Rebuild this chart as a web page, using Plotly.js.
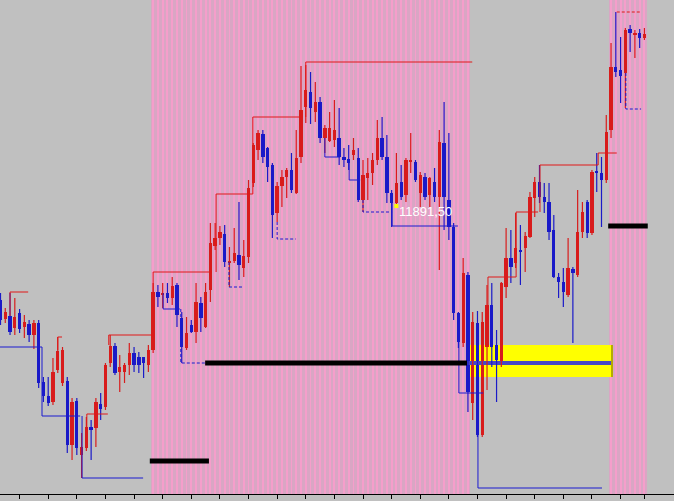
<!DOCTYPE html>
<html><head><meta charset="utf-8">
<script src="https://cdn.plot.ly/plotly-3.0.1.min.js"></script>
<style>html,body{margin:0;padding:0;background:#c0c0c0;}#chart{width:674px;height:501px;}</style>
</head><body><div id="chart"></div>
<script>
// ---- price data (one value per bar) ----
const openP = [11800,11781,11784,11772,11787,11773,11776,11765,11777,11718,11704,11698,11730,11717,11719,11655,11699,11645,11652,11673,11672,11696,11693,11737,11754,11728,11728,11735,11747,11743,11743,11735,11750,11808,11805,11807,11802,11815,11782,11752,11775,11768,11797,11773,11810,11854,11862,11866,11837,11839,11845,11832,11843,11917,11950,11966,11952,11935,11887,11914,11923,11930,11907,11943,11993,12008,11988,11998,11962,11959,11960,11962,11943,11941,11945,11942,11900,11922,11927,11940,11962,11943,11907,11897,11918,11905,11938,11938,11907,11923,11905,11918,11903,11957,11900,11873,11787,11757,11825,11697,11777,11665,11753,11795,11755,11735,11813,11842,11837,11850,11852,11863,11902,11918,11903,11898,11870,11823,11818,11805,11831,11825,11868,11898,11867,11929,11927,11920,11970,12033,12030,12027,12071,12065,12067,12062];
const highP = [11807,11792,11807,11802,11791,11785,11780,11780,11780,11723,11723,11742,11763,11753,11723,11702,11702,11667,11683,11680,11702,11707,11737,11765,11757,11745,11737,11757,11753,11748,11743,11755,11817,11815,11817,11817,11823,11817,11788,11783,11780,11817,11803,11817,11877,11877,11874,11875,11853,11872,11898,11860,11920,11957,11970,11970,11953,11937,11918,11930,11932,11947,11970,12034,12035,12028,12018,12003,11975,11988,12000,11992,11952,11955,11962,11952,11940,11942,11947,11980,11983,11965,11910,11947,11935,11942,11967,11940,11928,11927,11923,11932,11970,11998,11967,11877,11788,11842,11828,11788,11789,11788,11815,11817,11770,11818,11872,11870,11887,11875,11868,11908,11923,11935,11917,11917,11885,11827,11832,11862,11833,11910,11898,11900,11930,11947,11943,11985,12057,12088,12063,12072,12075,12070,12071,12072];
const lowP = [11775,11777,11765,11765,11767,11762,11758,11751,11712,11698,11694,11695,11727,11714,11647,11640,11645,11622,11649,11640,11653,11680,11690,11733,11725,11708,11717,11725,11728,11727,11722,11728,11747,11793,11792,11797,11795,11773,11737,11750,11767,11757,11768,11772,11798,11850,11855,11833,11813,11837,11820,11823,11837,11913,11940,11937,11918,11862,11878,11893,11902,11907,11906,11937,11977,11976,11978,11957,11947,11958,11953,11935,11933,11930,11940,11898,11888,11900,11915,11935,11940,11897,11873,11894,11900,11898,11927,11918,11893,11900,11893,11898,11830,11870,11860,11780,11752,11753,11688,11680,11663,11663,11710,11733,11698,11733,11802,11817,11832,11815,11828,11862,11883,11897,11887,11860,11822,11802,11793,11803,11757,11823,11862,11862,11865,11908,11873,11917,11962,12023,11997,11992,12048,12042,12052,12060];
const closeP = [11780,11788,11768,11783,11771,11778,11765,11777,11717,11704,11697,11728,11749,11750,11655,11698,11652,11653,11673,11670,11698,11691,11735,11754,11727,11733,11735,11747,11735,11735,11737,11750,11808,11803,11807,11802,11814,11785,11753,11767,11768,11798,11782,11808,11857,11862,11868,11838,11839,11847,11835,11844,11912,11955,11967,11943,11933,11885,11914,11923,11930,11910,11942,11990,12010,11992,11998,11962,11972,11972,11970,11943,11940,11937,11950,11900,11925,11927,11940,11962,11943,11907,11897,11917,11903,11940,11940,11920,11925,11903,11922,11903,11958,11903,11873,11787,11758,11827,11708,11778,11665,11778,11795,11753,11740,11817,11842,11833,11852,11848,11864,11903,11918,11903,11898,11868,11823,11818,11808,11832,11827,11868,11888,11867,11928,11927,11920,11968,12033,12028,12024,12070,12067,12067,12062,12066];

// highlighted bar zones
const zoneStart = [32, 128];
const zoneEnd   = [98, 135];

// resistance steps (red): start bar, end bar, level, vertical-from level
const resStart = [2, 12, 18.1, 22.7, 32, 45.2, 52.9, 64, 102.2, 108.1, 113.1, 125.3, 129.2];
const resEnd   = [5.8, 12.9, 22.5, 32.1, 44.3, 52.9, 63.4, 98.9, 108.1, 112.7, 125.3, 129.2, 134.3];
const resLevel = [11808, 11763, 11686, 11765, 11828, 11906, 11983, 12038, 11823, 11888, 11935, 11947, 12088];
const resFrom  = [11784, 11750, 11673, 11755, 11808, 11828, 11906, 11983, 11795, 11823, 11888, 11935, 12088];
const resDash  = [0,0,0,0,0,0,0,0,0,0,0,0,1];

// support steps (blue)
const supStart = [-0.1, 8.7, 17.1, 34.1, 37.8, 47.9, 58, 68, 73.1, 76, 82.1, 96.1, 100.1, 131.1];
const supEnd   = [8.7, 16.7, 29.9, 37.6, 42.9, 50.8, 61.9, 71.2, 75.4, 82.1, 95.9, 101.2, 126.1, 134.3];
const supLevel = [11753, 11684, 11622, 11791, 11737, 11813, 11861, 11943, 11920, 11888, 11874, 11707, 11612, 11991];
const supFrom  = [11753, 11753, 11684, 11807, 11791, 11838, 11878, 11962, 11937, 11900, 11897, 11758, 11665, 12027];
const supDash  = [0,0,0,0,1,1,1,0,0,1,0,0,0,1];

// key levels (thick black)
const keyStart = [31.3, 42.9, 127.4];
const keyEnd   = [43.7, 97.8, 135.7];
const keyLevel = [11639, 11737, 11874];

// yellow band
const bandX = [97.8, 128.4];
const bandY = [11723, 11755];
const bandMid = 11737;

const markBar = 83;
const markText = '11891,50';
const tickBars = [4,10,16,22,28,34,40,46,52,58,64,70,76,82,88,94,100,106,112,118,124,130,135];

// ---- build traces ----
const RED = '#d81c1c', BLUE = '#1a1ac8';
const n = openP.length;
const idx = [...Array(n).keys()];
const traces = [];

const zoneBars = [];
zoneStart.forEach((s, k) => { for (let i = s; i <= zoneEnd[k]; i++) zoneBars.push(i); });
const yMin = 11606, yMax = 12100;
traces.push({type:'bar', x: zoneBars, base: zoneBars.map(() => yMin), y: zoneBars.map(() => yMax - yMin),
  width: 1.02, marker:{color:'#d9a6c4', line:{width:0}}, hoverinfo:'skip'});
traces.push({type:'bar', x: zoneBars, base: zoneBars.map(() => yMin), y: zoneBars.map(() => yMax - yMin),
  width: 0.4, marker:{color:'#f59ecb', line:{width:0}}, hoverinfo:'skip'});
// band
traces.push({type:'bar', x:[(bandX[0]+bandX[1])/2], base:[bandY[0]], y:[bandY[1]-bandY[0]],
  width: bandX[1]-bandX[0], marker:{color:'#ffff00', line:{width:0}}, hoverinfo:'skip'});

// bodies
function bodies(up) {
  const xs = [], b = [], h = [];
  idx.forEach(i => {
    const isUp = closeP[i] >= openP[i];
    if (isUp !== up) return;
    xs.push(i); b.push(Math.min(openP[i], closeP[i]));
    h.push(Math.max(Math.abs(closeP[i] - openP[i]), 1));
  });
  return {type:'bar', x: xs, base: b, y: h, width: 0.7, marker:{color: up ? RED : BLUE, line:{width:0}}, hoverinfo:'skip'};
}
traces.push(bodies(true));
traces.push(bodies(false));

// band centre line & edge
traces.push({type:'scatter', mode:'lines', x:[bandX[0], bandX[1]-0.3], y:[bandMid, bandMid],
  line:{color:'#4848c4', width:4}, hoverinfo:'skip'});
traces.push({type:'scatter', mode:'lines', x:[bandX[1]-0.2, bandX[1]-0.2], y:[bandY[0], bandY[1]],
  line:{color:'#b4ac00', width:2}, hoverinfo:'skip'});

function wicks(up) {
  const xs = [], ys = [];
  idx.forEach(i => {
    if ((closeP[i] >= openP[i]) !== up) return;
    xs.push(i, i, null); ys.push(highP[i], lowP[i], null);
  });
  return {type:'scatter', mode:'lines', x: xs, y: ys, line:{color: up ? RED : BLUE, width:1.2}, hoverinfo:'skip'};
}
traces.push(wicks(true));
traces.push(wicks(false));

function steps(st, en, lv, fr, dsh, wantDash, color) {
  const xs = [], ys = [];
  st.forEach((s, k) => {
    if (dsh[k] !== wantDash) return;
    xs.push(s, s, en[k], null); ys.push(fr[k], lv[k], lv[k], null);
  });
  return {type:'scatter', mode:'lines', x: xs, y: ys, line:{color, width:1, dash: wantDash ? '3px,2px' : 'solid'}, hoverinfo:'skip'};
}
traces.push(steps(resStart, resEnd, resLevel, resFrom, resDash, 0, '#e01818'));
traces.push(steps(resStart, resEnd, resLevel, resFrom, resDash, 1, '#e01818'));
traces.push(steps(supStart, supEnd, supLevel, supFrom, supDash, 0, '#1a1ad0'));
traces.push(steps(supStart, supEnd, supLevel, supFrom, supDash, 1, '#1a1ad0'));

// key levels
const kx = [], ky = [];
keyStart.forEach((s, k) => { kx.push(s, keyEnd[k], null); ky.push(keyLevel[k], keyLevel[k], null); });
traces.push({type:'scatter', mode:'lines', x: kx, y: ky, line:{color:'#000000', width:5}, hoverinfo:'skip'});

// mark dot
traces.push({type:'scatter', mode:'markers', x:[markBar], y:[lowP[markBar]],
  marker:{symbol:'square', size:4, color:'#ffff00', line:{width:0}}, hoverinfo:'skip'});

const layout = {
  width: 674, height: 501,
  margin: {l:0, r:0, t:0, b:7, pad:0},
  paper_bgcolor: '#c0c0c0', plot_bgcolor: '#c0c0c0',
  showlegend: false, barmode: 'overlay', bargap: 0,
  xaxis: {range: [-0.105, 141.2], showgrid:false, zeroline:false, showline:true, linecolor:'#000', linewidth:1,
    ticks:'outside', ticklen:4, tickwidth:1, tickcolor:'#000', tickmode:'array', tickvals: tickBars,
    showticklabels:false, fixedrange:true},
  yaxis: {range: [yMin, yMax], showgrid:false, zeroline:false, showline:false, ticks:'', showticklabels:false, fixedrange:true},
  annotations: [{x: markBar + 0.1, y: lowP[markBar] - 5, xref:'x', yref:'y', text: markText, showarrow:false,
    xanchor:'left', yanchor:'middle', font:{family:'Liberation Sans Narrow, Arial Narrow, Liberation Sans, Arial', size:13, color:'#ffffff'}}]
};
Plotly.newPlot('chart', traces, layout, {staticPlot:true, displayModeBar:false});
</script></body></html>
